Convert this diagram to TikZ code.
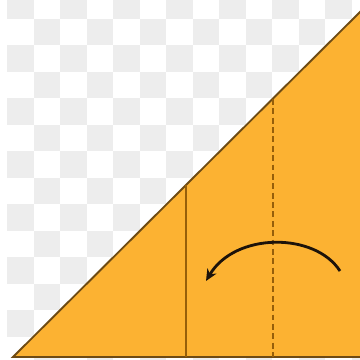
\documentclass[tikz,border=0pt]{standalone}
\usetikzlibrary{arrows.meta}
\definecolor{paper}{RGB}{252,178,50}
\definecolor{edge}{RGB}{110,75,20}
\definecolor{crease}{RGB}{150,95,10}
\definecolor{checker}{RGB}{237,237,237}
\begin{document}
\begin{tikzpicture}[x=0.03cm,y=-0.03cm,
  valley/.style={draw=crease,line width=1.1pt,dash pattern=on 5pt off 3pt},
  fold/.style={draw=crease,line width=1pt},
  foldarrow/.style={draw=black!85!brown,line width=2.4pt,-{Stealth[length=10pt,width=9pt]}}]
\useasboundingbox (0,0) rectangle (360,360);
\fill[white] (0,0) rectangle (360,360);
\begin{scope}
\clip (0,0) rectangle (360,360);
\foreach \i in {0,...,14}{
  \foreach \j in {0,...,14}{
    \pgfmathtruncatemacro{\parity}{mod(\i+\j,2)}
    \ifnum\parity=0
      \fill[checker] ({7+26.5*\i},{-8+26.5*\j}) rectangle ++(26.5,26.5);
    \fi
  }
}
\end{scope}
\coordinate (bl) at (13,357);
\coordinate (tr) at (362,10);
\coordinate (br) at (362,357);
\fill[paper] (bl) -- (tr) -- (br) -- cycle;
\draw[edge,line width=1.6pt] (br) -- (bl) -- (tr);
\coordinate (s1) at (186,185);
\coordinate (s2) at (186,357);
\coordinate (d1) at (273,99);
\coordinate (d2) at (273,357);
\draw[fold] (s1) -- (s2);
\draw[valley] (d1) -- (d2);
\coordinate (a1) at (340,271);
\coordinate (a2) at (206,281);
\draw[foldarrow] (a1) .. controls (315,232) and (235,232) .. (a2);
\end{tikzpicture}
\end{document}
